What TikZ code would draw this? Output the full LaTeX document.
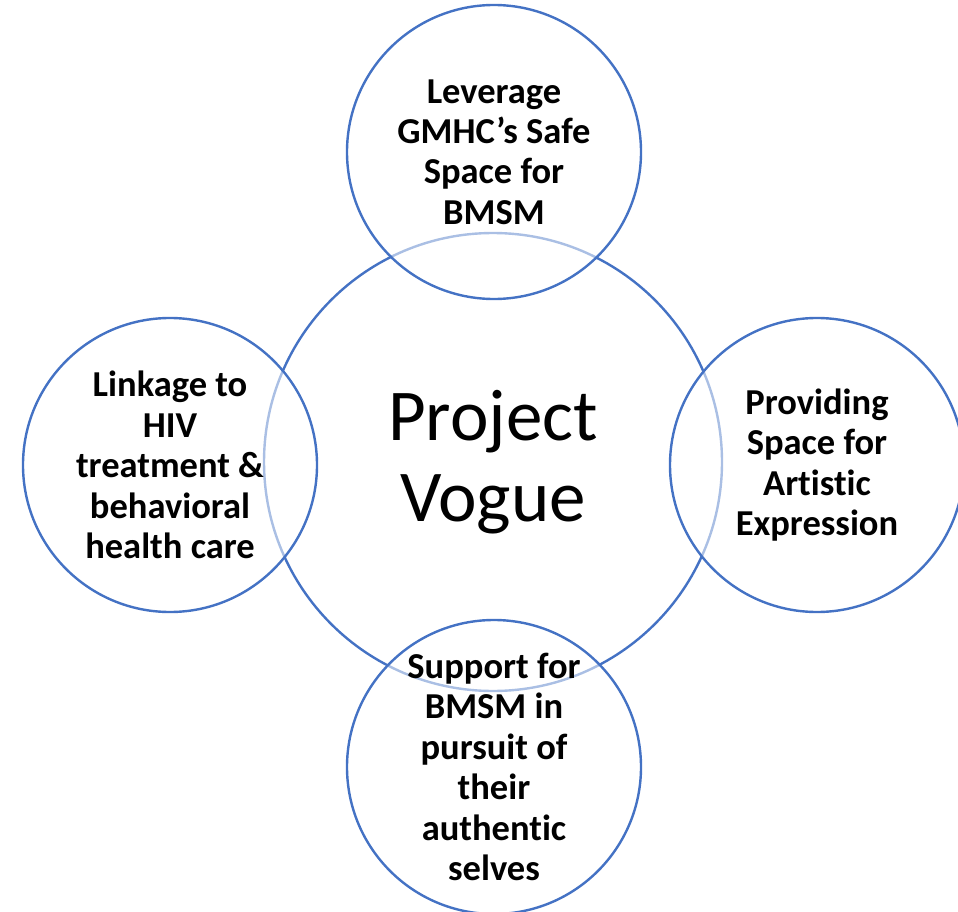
\documentclass[tikz,border=0pt]{standalone}
\usepackage{fontspec}
\setmainfont{Carlito}[Ligatures=NoCommon]

\definecolor{ringblue}{HTML}{4472C4}

\begin{document}
\begin{tikzpicture}[x=1pt,y=-1pt,
  hub/.style={circle,draw=ringblue,line width=2.4pt,minimum size=458pt,inner sep=0pt,
    align=center,font=\fontsize{73}{81}\selectfont},
  spoke/.style={circle,draw=ringblue,line width=2.4pt,minimum size=294pt,inner sep=0pt,
    fill=white,fill opacity=0.55,text opacity=1,align=center,
    font=\fontsize{36.5}{40.4}\selectfont\bfseries}]
\clip (0,0) rectangle (958,912);

\node[hub] (vogue) at (493,462) {Project\\Vogue};

\node[spoke] (safe)   at (494,152) {Leverage\\GMHC’s Safe\\Space for\\BMSM};
\node[spoke] (care)   at (170,465) {Linkage to\\HIV\\treatment \&\\behavioral\\health care};
\node[spoke] (art)    at (817,465) {Providing\\Space for\\Artistic\\Expression};
\node[spoke] (selves) at (494,767) {Support for\\BMSM in\\pursuit of\\their\\authentic\\selves};
\end{tikzpicture}
\end{document}
